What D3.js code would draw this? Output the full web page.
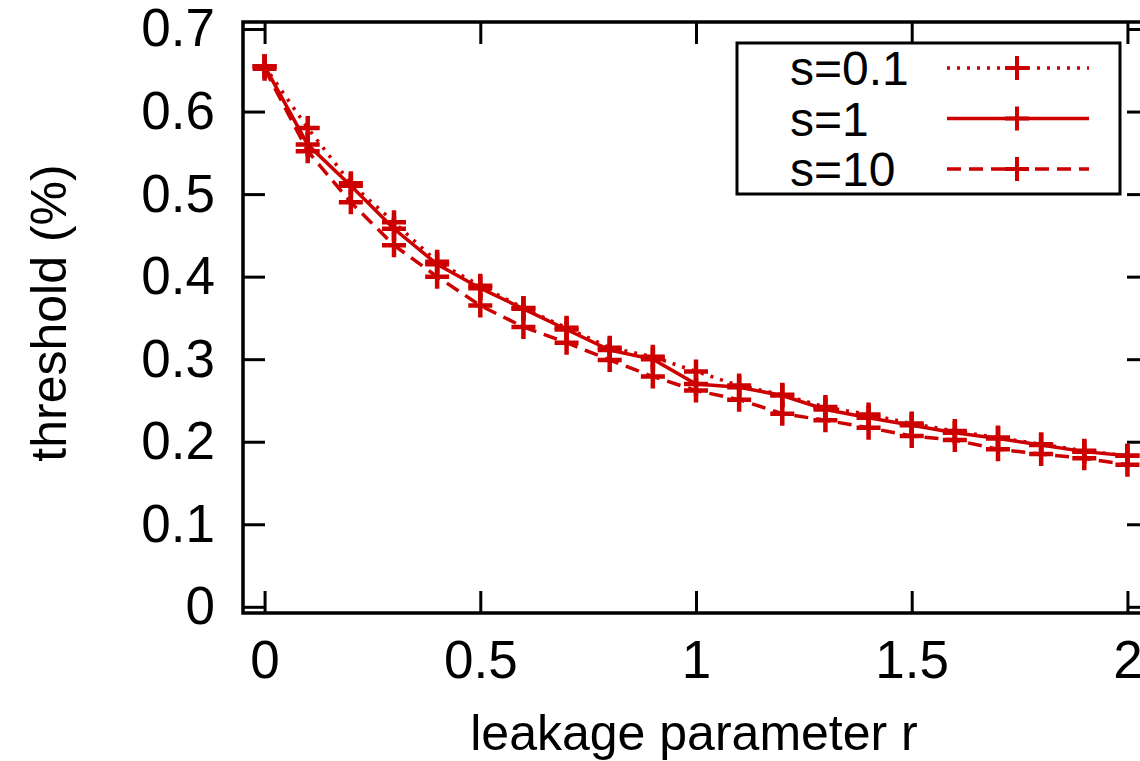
<!DOCTYPE html>
<html>
<head>
<meta charset="utf-8">
<script src="https://cdn.jsdelivr.net/npm/d3@7"></script>
<style>
  body { margin: 0; background: #fff; }
  svg text { font-family: "Liberation Sans", Arial, Helvetica, sans-serif; fill: #000; }
</style>
</head>
<body>
<div id="chart"></div>
<script>
// leakage parameter r
const rValues = [0, 0.1, 0.2, 0.3, 0.4, 0.5, 0.6, 0.7, 0.8, 0.9, 1.0,
                 1.1, 1.2, 1.3, 1.4, 1.5, 1.6, 1.7, 1.8, 1.9, 2.0];
// threshold for each s
const s01 = [0.655, 0.580, 0.513, 0.466, 0.418, 0.389, 0.362, 0.338, 0.314, 0.303, 0.285,
             0.268, 0.257, 0.242, 0.233, 0.222, 0.213, 0.205, 0.197, 0.189, 0.183];
const s1 = [0.655, 0.560, 0.510, 0.458, 0.415, 0.386, 0.361, 0.336, 0.311, 0.300, 0.270,
            0.266, 0.256, 0.239, 0.229, 0.220, 0.211, 0.204, 0.196, 0.188, 0.183];
const s10 = [0.652, 0.552, 0.490, 0.438, 0.400, 0.365, 0.339, 0.320, 0.299, 0.279, 0.262,
             0.251, 0.234, 0.226, 0.217, 0.207, 0.202, 0.191, 0.185, 0.180, 0.172];
const seriesNames = ["s=0.1", "s=1", "s=10"];
const xTicks = [0, 0.5, 1, 1.5, 2];
const yTicks = [0, 0.1, 0.2, 0.3, 0.4, 0.5, 0.6, 0.7];

const width = 1140, height = 761;
const red = "#cc0000";

const svg = d3.select("#chart").append("svg")
    .attr("width", width)
    .attr("height", height);

const x = d3.scaleLinear().domain([-0.05, 2.05]).range([243, 1149]);
const y = d3.scaleLinear().domain([-0.0075, 0.7085]).range([613, 22]);

// axes (gnuplot style: ticks point inwards, mirrored)
const fmt = d => d3.format("")(d);
svg.append("g")
    .attr("transform", "translate(" + x.range()[0] + ",0)")
    .call(d3.axisLeft(y).tickValues(yTicks).tickSize(-22).tickPadding(28).tickFormat(fmt))
    .call(g => g.select(".domain").remove());
svg.append("g")
    .attr("transform", "translate(" + x.range()[1] + ",0)")
    .call(d3.axisRight(y).tickValues(yTicks).tickSize(-22).tickFormat(""))
    .call(g => g.select(".domain").remove());
svg.append("g")
    .attr("transform", "translate(0," + y.range()[0] + ")")
    .call(d3.axisBottom(x).tickValues(xTicks).tickSize(-22).tickPadding(27).tickFormat(fmt))
    .call(g => g.select(".domain").remove());
svg.append("g")
    .attr("transform", "translate(0," + y.range()[1] + ")")
    .call(d3.axisTop(x).tickValues(xTicks).tickSize(-22).tickFormat(""))
    .call(g => g.select(".domain").remove());

svg.selectAll(".tick line").attr("stroke", "#000").attr("stroke-width", 3);
svg.selectAll(".tick text").attr("font-size", 53);

// border
svg.append("rect")
    .attr("x", x.range()[0])
    .attr("y", y.range()[1])
    .attr("width", x.range()[1] - x.range()[0])
    .attr("height", y.range()[0] - y.range()[1])
    .attr("fill", "none")
    .attr("stroke", "#000")
    .attr("stroke-width", 3.5);

// axis titles
svg.append("text")
    .attr("transform", "translate(66,313) rotate(-90)")
    .attr("text-anchor", "middle")
    .attr("font-size", 50)
    .text("threshold (%)");
svg.append("text")
    .attr("x", 694)
    .attr("y", 750)
    .attr("text-anchor", "middle")
    .attr("font-size", 50)
    .text("leakage parameter r");

const dashes = ["3,7", null, "14,8"];
const allSeries = [s01, s1, s10];

const line = d3.line()
    .x((d, i) => x(rValues[i]))
    .y(d => y(d));

const plus = "M-12,0H12M0,-12V12";

allSeries.forEach((vals, k) => {
    svg.append("path")
        .datum(vals)
        .attr("d", line)
        .attr("fill", "none")
        .attr("stroke", red)
        .attr("stroke-width", 3.5)
        .attr("stroke-dasharray", dashes[k]);
    svg.append("g").selectAll("path")
        .data(vals)
        .enter()
        .append("path")
        .attr("transform", (d, i) => "translate(" + x(rValues[i]) + "," + y(d) + ")")
        .attr("d", plus)
        .attr("stroke", red)
        .attr("stroke-width", 4.5);
});

// legend
const key = svg.append("g");
key.append("rect")
    .attr("x", 737).attr("y", 43)
    .attr("width", 383).attr("height", 151)
    .attr("fill", "#fff")
    .attr("stroke", "#000")
    .attr("stroke-width", 3);

seriesNames.forEach((name, k) => {
    const cy = 68 + k * 50.5;
    key.append("text")
        .attr("x", 790)
        .attr("y", cy + 17)
        .attr("font-size", 48)
        .text(name);
    key.append("line")
        .attr("x1", 947).attr("x2", 1089)
        .attr("y1", cy).attr("y2", cy)
        .attr("stroke", red)
        .attr("stroke-width", 3.5)
        .attr("stroke-dasharray", dashes[k]);
    key.append("path")
        .attr("transform", "translate(1017," + cy + ")")
        .attr("d", plus)
        .attr("stroke", red)
        .attr("stroke-width", 4);
});
</script>
</body>
</html>
